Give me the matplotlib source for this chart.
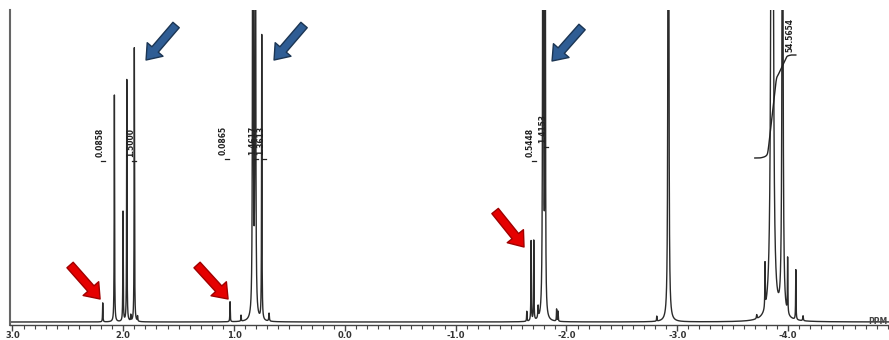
import numpy as np
import matplotlib.pyplot as plt
from matplotlib.ticker import FixedLocator, MultipleLocator

# peak list: position (ppm), height (px above baseline), half width (ppm)
peak_ppm = [2.185, 2.080, 2.002, 1.968, 1.932, 1.900, 1.871,
            1.036, 0.937, 0.830, 0.808, 0.750, 0.684,
            -1.642, -1.681, -1.705, -1.744, -1.789, -1.808, -1.911, -1.924,
            -2.815, -2.920,
            -3.717, -3.792, -3.856, -3.950, -3.996, -4.070, -4.135]
peak_height = [19, 227, 110, 242, 6, 274, 5,
               20, 6, 1500, 1500, 285, 8,
               10, 80, 80, 12, 2000, 800, 12, 10,
               5, 3000,
               4, 45, 3000, 600, 55, 50, 5]
peak_width = [0.002, 0.002, 0.002, 0.002, 0.002, 0.002, 0.002,
              0.002, 0.002, 0.002, 0.002, 0.002, 0.003,
              0.002, 0.002, 0.002, 0.003, 0.002, 0.002, 0.002, 0.002,
              0.002, 0.0018,
              0.003, 0.002, 0.0045, 0.005, 0.002, 0.002, 0.003]

# integral labels (value, centre ppm, bottom of text)
integral_text = ["0.0858", "1.5000", "0.0865", "1.4617", "1.3613", "0.5448", "1.4153"]
integral_ppm = [2.209, 1.930, 1.095, 0.828, 0.760, -1.676, -1.789]
integral_base = [165, 165, 167, 167, 167, 165, 179]

big_integral_text = "54.5654"
big_integral_range = (-3.70, -4.07)

tick_values = [3.0, 2.0, 1.0, 0.0, -1.0, -2.0, -3.0, -4.0]
tick_labels = ["3.0", "2.0", "1.0", "0.0", "-1.0", "-2.0", "-3.0", "-4.0"]

# arrows: (tail ppm, tail I, head ppm, head I)
blue_arrows = [(1.523, 297, 1.794, 262), (0.368, 297, 0.639, 262), (-2.141, 295, -1.870, 261)]
red_arrows = [(2.480, 57, 2.209, 23), (1.334, 57, 1.054, 23), (-1.356, 111, -1.617, 75)]

x = np.linspace(3.022, -4.911, 60000)
y = np.zeros_like(x)
for p, h, g in zip(peak_ppm, peak_height, peak_width):
    y += h * g**2 / ((x - p)**2 + g**2)

fig = plt.figure(figsize=(8.89, 3.40), dpi=100)
ax = fig.add_axes([10/889, 15/340, 879/889, 315/340])
ax.plot(x, y, color='#2b2b2b', lw=1.0)
ax.set_xlim(3.022, -4.911)
ax.set_ylim(-3, 312)

for s in ['top', 'right']:
    ax.spines[s].set_visible(False)
ax.spines['left'].set_color('#666666')
ax.spines['left'].set_linewidth(1.5)
ax.spines['bottom'].set_color('#444444')
ax.spines['bottom'].set_linewidth(1.0)

ax.xaxis.set_major_locator(FixedLocator(tick_values))
ax.set_xticklabels(tick_labels, fontsize=6, fontweight='bold', color='#333333')
ax.xaxis.set_minor_locator(MultipleLocator(0.1))
ax.tick_params(axis='x', which='major', length=4, width=1, color='#444444', pad=0)
ax.tick_params(axis='x', which='minor', length=3, width=0.8, color='#444444')
ax.set_yticks([])

ax.text(-4.812, 0, "PPM", fontsize=5.5, fontweight='bold', color='#444444',
        ha='center', va='center')

# small integrals
for t, p, b in zip(integral_text, integral_ppm, integral_base):
    ax.text(p, b, t, rotation=90, fontsize=5.5, fontweight='bold',
            family=['Liberation Sans Narrow', 'DejaVu Sans'],
            ha='center', va='bottom', color='#222222')
    ax.plot([p - 0.01, p - 0.045], [b - 4, b - 4], color='#222222', lw=0.9)

# big integral curve
m = (x <= big_integral_range[0]) & (x >= big_integral_range[1])
xi = x[m]
ci = np.cumsum(y[m])
w = 600
ci = np.convolve(ci, np.ones(w) / w, mode='same')
ci[:w//2] = ci[w//2]
ci[-w//2:] = ci[-w//2 - 1]
ci = (ci - ci.min()) / (ci.max() - ci.min())
ax.plot(xi, 164 + 103 * ci, color='#222222', lw=1.0)
ax.text(-4.018, 270, big_integral_text, rotation=90, fontsize=5.5, fontweight='bold',
        family=['Liberation Sans Narrow', 'DejaVu Sans'],
        ha='center', va='bottom', color='#222222')

for tx, ty, hx, hy in blue_arrows:
    ax.annotate('', xy=(hx, hy), xytext=(tx, ty),
                arrowprops=dict(arrowstyle='simple,head_width=1.5,head_length=1.0,tail_width=0.6',
                                fc='#2f5d94', ec='#1b3553', lw=1.0,
                                shrinkA=0, shrinkB=0, mutation_scale=10))
for tx, ty, hx, hy in red_arrows:
    ax.annotate('', xy=(hx, hy), xytext=(tx, ty),
                arrowprops=dict(arrowstyle='simple,head_width=1.5,head_length=1.0,tail_width=0.6',
                                fc='#e50000', ec='#a00000', lw=1.0,
                                shrinkA=0, shrinkB=0, mutation_scale=10))

fig.savefig('out.png', dpi=100)
